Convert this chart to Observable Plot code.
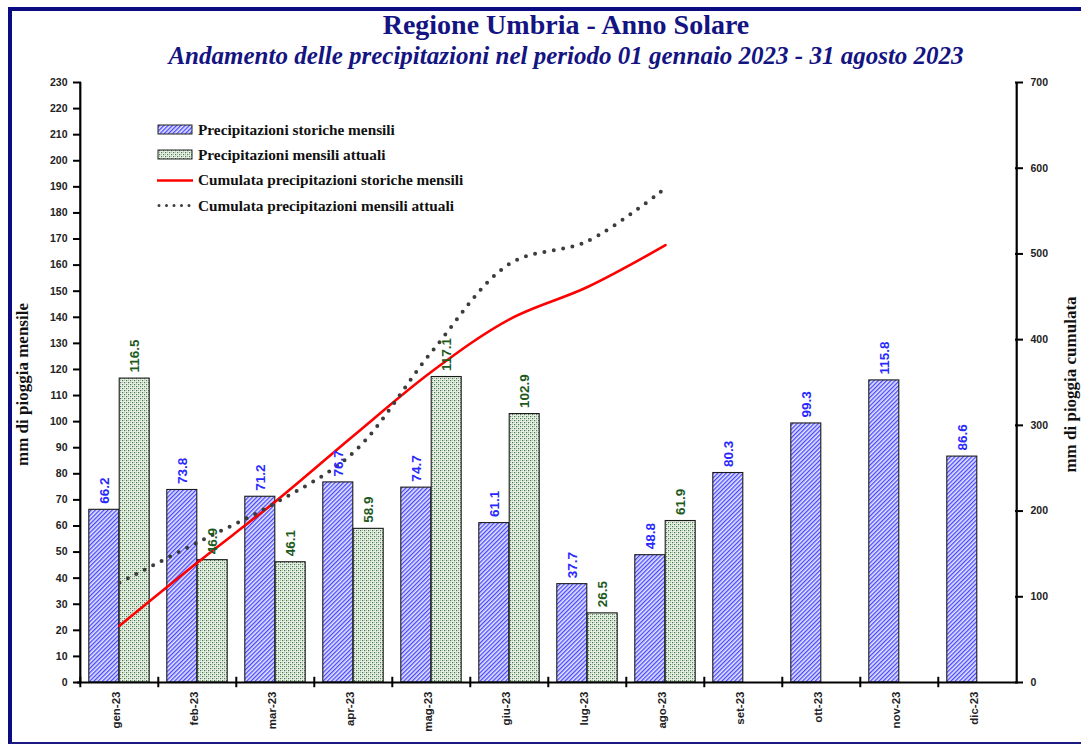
<!DOCTYPE html>
<html><head><meta charset="utf-8">
<script src="https://cdn.jsdelivr.net/npm/d3@7"></script>
<script src="https://cdn.jsdelivr.net/npm/@observablehq/plot@0.6"></script>
<style>
html,body{margin:0;padding:0;background:#fff;overflow:hidden;}
#wrap{position:relative;width:1081px;height:744px;overflow:hidden;background:#fff;}
#frame{position:absolute;left:8px;top:7px;width:1200px;height:731px;border-left:4px solid #0c0c82;border-top:4px solid #0c0c82;border-bottom:2px solid #1a1a82;pointer-events:none;}
.t{position:absolute;left:0;width:1132px;text-align:center;font-family:"Liberation Serif","Times New Roman",serif;font-weight:bold;color:#141482;white-space:nowrap;}
#title{top:9px;font-size:28px;}
#subtitle{top:42px;font-size:25px;font-style:italic;}
#chart{position:absolute;left:0;top:70px;}
#legend{position:absolute;left:157px;top:117px;font-family:"Liberation Serif","Times New Roman",serif;font-weight:bold;font-size:15.3px;color:#111;}
#legend .row{display:flex;align-items:center;height:25.3px;}
#legend svg{margin-right:4px;}
</style></head>
<body><div id="wrap">
<div id="title" class="t">Regione Umbria - Anno Solare</div>
<div id="subtitle" class="t">Andamento delle precipitazioni nel periodo 01 gennaio 2023 - 31 agosto 2023</div>
<div id="chart"></div>
<div id="legend"></div>
<div id="frame"></div>
</div>
<script>
const months = ["gen-23","feb-23","mar-23","apr-23","mag-23","giu-23","lug-23","ago-23","set-23","ott-23","nov-23","dic-23"];
const histValues = [66.2, 73.8, 71.2, 76.7, 74.7, 61.1, 37.7, 48.8, 80.3, 99.3, 115.8, 86.6];
const currValues = [116.5, 46.9, 46.1, 58.9, 117.1, 102.9, 26.5, 61.9];
const cumHistValues = [66.2, 140.0, 211.2, 287.9, 362.6, 423.7, 461.4, 510.2];
const cumCurrValues = [116.5, 163.4, 209.5, 268.4, 385.5, 488.4, 514.9, 576.8];
const leftTicks = [0,10,20,30,40,50,60,70,80,90,100,110,120,130,140,150,160,170,180,190,200,210,220,230];
const rightTicks = [0,100,200,300,400,500,600,700];
const legendLabels = ["Precipitazioni storiche mensili","Precipitazioni mensili attuali","Cumulata precipitazioni storiche mensili","Cumulata precipitazioni mensili attuali"];

const hist = months.map((m,i)=>({month:m, value:histValues[i]}));
const curr = currValues.map((v,i)=>({month:months[i], value:v}));
const leftMax = 230, rightMax = 700, ratio = leftMax/rightMax;
const cumHist = cumHistValues.map((v,i)=>({month:months[i], value:v*ratio}));
const cumCurr = cumCurrValues.map((v,i)=>({month:months[i], value:v*ratio}));

const W=1081, H=674, ML=77, MR=63, MT=12, MB=62;
const bw = (W-ML-MR)/months.length;
const half = bw/2, outer = 8.8;
const shift = (half-outer)/2;
const sans = "'Liberation Sans', Arial, sans-serif";
const serif = "'Liberation Serif', 'Times New Roman', serif";

const plot = Plot.plot({
  width: W, height: H,
  marginLeft: ML, marginRight: MR, marginTop: MT, marginBottom: MB,
  style: {fontFamily: sans, background: "transparent", overflow: "visible"},
  x: {type: "band", domain: months, padding: 0, axis: null},
  y: {domain: [0, leftMax], axis: null},
  marks: [
    Plot.barY(hist, {x:"month", y:"value", fill:"url(#hatchBlue)", stroke:"#1a1a1a", strokeWidth:1.1, insetLeft: outer, insetRight: half}),
    Plot.barY(curr, {x:"month", y:"value", fill:"url(#dotGreen)", stroke:"#1a1a1a", strokeWidth:1.1, insetLeft: half, insetRight: outer}),
    Plot.line(cumHist, {x:"month", y:"value", stroke:"#ff0000", strokeWidth:2.6, curve:"catmull-rom"}),
    Plot.line(cumCurr, {x:"month", y:"value", stroke:"#3c3c3c", strokeWidth:4, strokeDasharray:"0 9.5", strokeLinecap:"round", curve:"catmull-rom"}),
    Plot.text(hist, {x:"month", y:"value", text: d=>d.value.toFixed(1), rotate:-90, textAnchor:"start", dx:-shift, dy:-6, fill:"#2828ff", fontWeight:"bold", fontSize:13.5, fontFamily: sans}),
    Plot.text(curr, {x:"month", y:"value", text: d=>d.value.toFixed(1), rotate:-90, textAnchor:"start", dx:shift, dy:-6, fill:"#1d5a1d", fontWeight:"bold", fontSize:13.5, fontFamily: sans}),
    Plot.ruleY([0], {stroke:"#000", strokeWidth:2}),
    Plot.ruleX([months[0]], {x: d=>d, dx:-half, stroke:"#000", strokeWidth:2.2}),
    Plot.ruleX([months[months.length-1]], {x: d=>d, dx:half, stroke:"#000", strokeWidth:2.2}),
    Plot.ruleX(months, {x: d=>d, dx:-half, y1:-2, y2:2, stroke:"#000", strokeWidth:2}),
    Plot.axisY(leftTicks, {anchor:"left", tickSize:8, dx:4, strokeWidth:2, tickFormat: ()=>"", label:null}),
    Plot.axisY(leftTicks, {anchor:"left", tickSize:0, tickPadding:10, fontSize:10.5, fontWeight:"bold", fill:"#222", label:null}),
    Plot.axisY(rightTicks.map(v=>v*ratio), {anchor:"right", tickSize:8, dx:-4, strokeWidth:2, tickFormat: ()=>"", label:null}),
    Plot.axisY(rightTicks.map(v=>v*ratio), {anchor:"right", tickSize:0, tickPadding:12, tickFormat: d=>String(Math.round(d/ratio)), fontSize:10.5, fontWeight:"bold", fill:"#222", label:null}),
    Plot.text(months, {x: d=>d, frameAnchor:"bottom", rotate:-90, textAnchor:"end", dy:9, fontSize:11.5, fontWeight:"bold", fill:"#222", fontFamily: sans}),
    Plot.text(["mm di pioggia mensile"], {frameAnchor:"left", textAnchor:"middle", rotate:-90, dx:-55, dy:2, fontFamily: serif, fontWeight:"bold", fontSize:17, fill:"#111"}),
    Plot.text(["mm di pioggia cumulata"], {frameAnchor:"right", textAnchor:"middle", rotate:-90, dx:52, dy:2, fontFamily: serif, fontWeight:"bold", fontSize:17, fill:"#111"})
  ]
});

const defs = `
<pattern id="hatchBlue" patternUnits="userSpaceOnUse" width="3" height="3" patternTransform="rotate(45)">
  <rect width="3" height="3" fill="#e6e6ff"/>
  <rect width="1.3" height="3" fill="#4646ff"/>
</pattern>
<pattern id="dotGreen" patternUnits="userSpaceOnUse" width="4" height="4">
  <rect width="4" height="4" fill="#eaf1e8"/>
  <rect x="0" y="0" width="1.2" height="1.2" fill="#467a46"/>
  <rect x="2" y="2" width="1.2" height="1.2" fill="#467a46"/>
  <rect x="2" y="0" width="1" height="1" fill="#a9c2a6"/>
  <rect x="0" y="2" width="1" height="1" fill="#a9c2a6"/>
</pattern>`;
d3.select(plot).insert("defs", ":first-child").html(defs);
document.getElementById("chart").appendChild(plot);

// Legend
const legend = d3.select("#legend");
const swatches = [
  s => s.append("rect").attr("x",1).attr("y",2).attr("width",34).attr("height",9).attr("fill","url(#hatchBlue)").attr("stroke","#222").attr("stroke-width",1),
  s => s.append("rect").attr("x",1).attr("y",2).attr("width",34).attr("height",9).attr("fill","url(#dotGreen)").attr("stroke","#222").attr("stroke-width",1),
  s => s.append("line").attr("x1",0).attr("x2",36).attr("y1",6.5).attr("y2",6.5).attr("stroke","#ff0000").attr("stroke-width",2.6),
  s => s.append("line").attr("x1",2).attr("x2",36).attr("y1",6.5).attr("y2",6.5).attr("stroke","#3c3c3c").attr("stroke-width",3).attr("stroke-dasharray","0 7.5").attr("stroke-linecap","round")
];
legendLabels.forEach((lab,i)=>{
  const row = legend.append("div").attr("class","row");
  const s = row.append("svg").attr("width",37).attr("height",13);
  swatches[i](s);
  row.append("span").text(lab);
});
</script>
</body></html>
